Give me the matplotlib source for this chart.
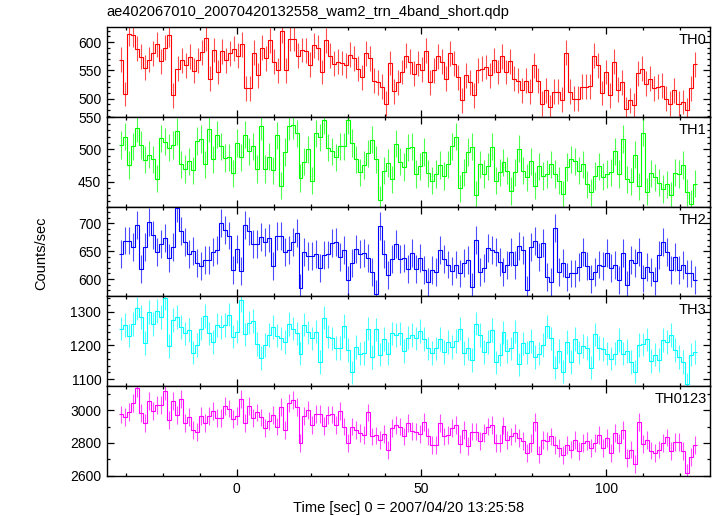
import numpy as np
import matplotlib
matplotlib.use("Agg")
import matplotlib.pyplot as plt
from matplotlib.ticker import MultipleLocator

plt.rcParams["font.family"] = ["Liberation Sans", "DejaVu Sans"]

# rates (counts/sec), 1-s-ish bins
th0 = [569, 508, 615, 613, 588, 574, 555, 569, 580, 596, 566, 590, 613, 506, 553, 568, 559, 574,
       549, 568, 582, 607, 535, 586, 547, 584, 568, 580, 588, 576, 596, 518, 518, 581, 541, 590,
       571, 603, 565, 550, 620, 550, 606, 606, 576, 586, 585, 560, 594, 590, 547, 603, 576, 562,
       565, 563, 559, 578, 571, 553, 538, 580, 571, 532, 529, 521, 491, 563, 513, 529, 547, 576,
       565, 544, 562, 551, 585, 529, 550, 575, 565, 535, 580, 562, 538, 497, 541, 529, 506, 550,
       553, 556, 541, 568, 547, 575, 547, 566, 535, 532, 515, 532, 512, 559, 532, 491, 515, 485,
       512, 512, 498, 581, 512, 500, 500, 521, 521, 522, 576, 559, 510, 547, 506, 565, 516, 529,
       481, 497, 488, 545, 553, 526, 535, 518, 521, 523, 500, 491, 515, 491, 494, 479, 518, 561]

th1 = [507, 520, 476, 505, 533, 507, 484, 492, 485, 455, 517, 512, 503, 507, 528, 477, 470, 482,
       468, 513, 516, 477, 532, 485, 523, 505, 487, 488, 463, 510, 488, 523, 497, 505, 470, 536,
       470, 489, 468, 522, 444, 496, 536, 537, 525, 456, 481, 500, 452, 525, 519, 545, 503, 497,
       488, 505, 505, 545, 510, 485, 465, 476, 494, 515, 485, 422, 467, 479, 454, 509, 481, 473,
       503, 504, 462, 474, 496, 463, 452, 462, 476, 459, 477, 505, 520, 440, 465, 496, 504, 430,
       477, 462, 474, 504, 452, 465, 480, 467, 436, 465, 501, 467, 457, 482, 444, 474, 459, 462,
       477, 462, 452, 431, 473, 485, 482, 467, 477, 446, 434, 459, 474, 458, 462, 465, 497, 462,
       516, 454, 450, 492, 443, 526, 435, 463, 457, 449, 439, 446, 429, 464, 462, 476, 434, 416, 447]

th2 = [645, 669, 669, 658, 697, 618, 658, 702, 679, 649, 663, 674, 637, 658, 727, 686, 667, 645,
       651, 628, 624, 634, 634, 649, 652, 701, 688, 678, 617, 654, 614, 697, 686, 662, 662, 676,
       666, 674, 623, 677, 677, 648, 652, 666, 683, 584, 649, 642, 642, 645, 619, 643, 644, 664,
       667, 640, 652, 598, 628, 654, 645, 646, 638, 612, 574, 695, 645, 608, 636, 662, 636, 638,
       618, 646, 618, 637, 617, 595, 616, 612, 652, 636, 626, 614, 626, 610, 628, 634, 586, 670,
       613, 620, 656, 652, 649, 630, 612, 625, 649, 625, 659, 652, 580, 658, 668, 640, 664, 604,
       595, 692, 613, 628, 604, 610, 610, 622, 649, 623, 600, 612, 626, 624, 646, 619, 625, 598,
       646, 589, 634, 628, 649, 601, 622, 613, 597, 643, 666, 649, 617, 640, 616, 625, 610, 610, 598]

th3 = [1250, 1260, 1229, 1263, 1310, 1285, 1208, 1300, 1263, 1302, 1285, 1340, 1199, 1275, 1285,
       1255, 1236, 1246, 1179, 1201, 1250, 1288, 1236, 1211, 1260, 1255, 1260, 1292, 1226, 1241,
       1335, 1233, 1268, 1273, 1204, 1163, 1201, 1231, 1255, 1229, 1221, 1211, 1263, 1250, 1236,
       1176, 1262, 1239, 1221, 1241, 1151, 1283, 1226, 1221, 1193, 1193, 1258, 1186, 1120, 1196,
       1176, 1178, 1250, 1166, 1248, 1173, 1219, 1176, 1236, 1231, 1236, 1183, 1223,
       1231, 1221, 1243, 1219, 1191, 1178, 1191, 1219, 1181, 1211, 1196, 1213, 1250, 1178, 1191,
       1156, 1265, 1231, 1181, 1211, 1246, 1150, 1173, 1239, 1183, 1191, 1241, 1144, 1206, 1179,
       1214, 1166, 1176, 1201, 1257, 1221, 1134, 1183, 1122, 1211, 1151, 1219, 1179, 1199, 1193,
       1134, 1233, 1193, 1189, 1176, 1161, 1176, 1216, 1176, 1183, 1151, 1122, 1201, 1203, 1218,
       1153, 1173, 1156, 1216, 1211, 1231, 1186, 1166, 1151, 1084, 1173, 1181]

th0123 = [2974, 2960, 2990, 3044, 3134, 2984, 2924, 3054, 2996, 3030, 3030, 3114, 2940, 3056, 2970,
          3066, 2920, 2960, 2880, 2866, 2964, 2924, 2964, 2994, 2950, 2954, 3024, 3010, 2944, 2964,
          3070, 2924, 3024, 2954, 2986, 2956, 2890, 2934, 2970, 2900, 3020, 2880, 3044, 3060, 3020,
          2800, 2964, 3000, 2910, 2976, 2976, 2904, 2970, 2974, 2910, 2994, 2900, 2800, 2900, 2880,
          2860, 2850, 2986, 2840, 2846, 2820, 2854, 2756, 2890, 2910, 2900, 2840, 2920,
          2874, 2870, 2854, 2930, 2840, 2790, 2790, 2920, 2840, 2850, 2890, 2910, 2794, 2880, 2780,
          2870, 2870, 2810, 2860, 2900, 2910, 2800, 2800, 2906, 2820, 2840, 2860, 2830, 2810, 2740,
          2800, 2926, 2730, 2820, 2810, 2840, 2790, 2770, 2726, 2790, 2760, 2820, 2750, 2800, 2810,
          2770, 2800, 2850, 2770, 2830, 2740, 2860, 2800, 2880, 2710, 2760, 2670, 2926, 2794, 2820,
          2754, 2740, 2760, 2800, 2834, 2750, 2806, 2806, 2750, 2620, 2714, 2790]

names = ["TH0", "TH1", "TH2", "TH3", "TH0123"]
errors = [22, 21, 25, 35, 54]
t_first, t_last = -31.8, 124.5

series = [th0, th1, th2, th3, th0123]
colors = ["#ff0000", "#00ff00", "#0000ff", "#00ffff", "#ff00ff"]
ylims = [(468, 627), (412, 550.6), (569, 730), (1079, 1346), (2599, 3146)]
major = [50, 50, 50, 100, 200]
minor = [10, 10, 10, 20, 100]

fig, axes = plt.subplots(5, 1, figsize=(7.17, 5.16), dpi=100, sharex=True,
                         gridspec_kw={"hspace": 0})
fig.subplots_adjust(left=0.149, right=0.990, top=0.948, bottom=0.0775)

for ax, y, name, err, c, yl, mj, mn in zip(axes, series, names, errors, colors,
                                           ylims, major, minor):
    y = np.array(y, dtype=float)
    edges = np.linspace(t_first, t_last, len(y) + 1)
    mid = 0.5 * (edges[:-1] + edges[1:])
    ax.errorbar(mid, y, yerr=err, fmt="none", ecolor=c, elinewidth=0.8,
                capsize=0, alpha=0.7, zorder=2)
    ax.stairs(y, edges, baseline=None, color=c, linewidth=0.8, zorder=3)

    ax.set_xlim(-35.2, 128.1)
    ax.set_ylim(*yl)
    ax.yaxis.set_major_locator(MultipleLocator(mj))
    ax.yaxis.set_minor_locator(MultipleLocator(mn))
    ax.xaxis.set_major_locator(MultipleLocator(50))
    ax.xaxis.set_minor_locator(MultipleLocator(10))
    ax.tick_params(which="both", direction="in", top=True, right=True,
                   labelsize=10, width=0.9, colors="black", pad=4)
    ax.tick_params(which="major", length=5)
    ax.tick_params(which="minor", length=2.5)
    for s in ax.spines.values():
        s.set_linewidth(1.0)
    ax.text(0.995, 0.93, name, transform=ax.transAxes, ha="right", va="top",
            fontsize=10.5)

axes[-1].set_xlabel("Time [sec] 0 = 2007/04/20 13:25:58", fontsize=10.5, labelpad=4)
fig.text(0.058, 0.51, "Counts/sec", rotation=90, ha="center", va="center", fontsize=10.5)
fig.text(0.149, 0.977, "ae402067010_20070420132558_wam2_trn_4band_short.qdp",
         ha="left", va="center", fontsize=10.5)

fig.savefig("out.png", dpi=100)
